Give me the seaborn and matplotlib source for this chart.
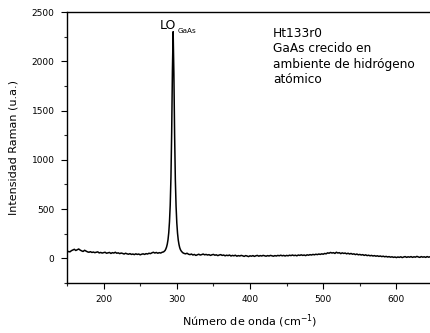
import matplotlib
matplotlib.use("Agg")
import matplotlib.pyplot as plt
from matplotlib.ticker import MultipleLocator
import numpy as np
import pandas as pd
import seaborn as sns

# ---- data ----
wn_low = list(range(150, 284, 2))
int_low = [62, 70, 66, 78, 85, 92, 80, 88, 95, 84, 76, 70, 82, 74, 66, 62, 68, 60, 64, 58,
           62, 66, 55, 60, 54, 58, 62, 52, 56, 60, 50, 58, 54, 62, 52, 56, 48, 54, 50, 44,
           52, 46, 42, 48, 40, 44, 38, 46, 40, 44, 36, 42, 46, 40, 48, 44, 52, 48, 56, 62,
           54, 60, 52, 58, 54, 62, 66]
wn_peak = list(range(284, 308))
int_peak = [80, 95, 115, 145, 190, 260, 370, 540, 820, 1280, 1900, 2300,
            1880, 1260, 800, 530, 360, 255, 185, 140, 108, 88, 75, 66]
wn_high = list(range(308, 651, 2))
int_high = [58, 50, 46, 52, 42, 38, 44, 34, 40, 30, 36, 42, 34, 38, 44, 36, 40, 34, 38, 30,
            36, 40, 32, 36, 28, 34, 38, 30, 34, 26, 32, 28, 34, 24, 30, 26, 32, 22, 28, 24,
            30, 26, 20, 28, 24, 18, 26, 22, 28, 20, 26, 30, 22, 28, 24, 30, 26, 22, 28, 24,
            30, 26, 22, 28, 24, 30, 26, 32, 26, 30, 24, 30, 26, 32, 28, 34, 28, 32, 26, 34,
            30, 36, 30, 34, 28, 36, 32, 38, 34, 40, 36, 42, 38, 44, 40, 46, 42, 50, 46, 56,
            52, 60, 54, 58, 50, 62, 54, 58, 48, 56, 50, 54, 46, 52, 44, 50, 42, 46, 38, 44,
            36, 40, 34, 38, 30, 36, 28, 32, 26, 30, 24, 28, 22, 26, 20, 24, 18, 22, 16, 20,
            14, 18, 12, 16, 10, 14, 8, 14, 10, 16, 8, 14, 18, 10, 16, 12, 18, 10, 16, 12,
            20, 14, 10, 18, 12, 16, 10, 18, 12, 16, 10, 14]

wavenumber = wn_low + wn_peak + wn_high
intensity = int_low + int_peak + int_high

x_ticks = [200, 300, 400, 500, 600]
y_ticks = [0, 500, 1000, 1500, 2000, 2500]
x_label = "Número de onda (cm$^{-1}$)"
y_label = "Intensidad Raman (u.a.)"
note_lines = ["Ht133r0", "GaAs crecido en", "ambiente de hidrógeno", "atómico"]

df = pd.DataFrame({"wn": wavenumber, "I": intensity})

sns.set_style("ticks")
plt.rcParams["font.family"] = ["DejaVu Sans"]
plt.rcParams["mathtext.default"] = "regular"
plt.rcParams["text.color"] = "black"
plt.rcParams["axes.labelcolor"] = "black"

fig = plt.figure(figsize=(4.31, 3.33), dpi=100)
ax = fig.add_axes([67 / 431, 1 - 283 / 333, (433 - 67) / 431, (283 - 12) / 333])

sns.lineplot(data=df, x="wn", y="I", ax=ax, color="black", linewidth=1.1,
             estimator=None, sort=True)

ax.set_xlim(150, 650)
ax.set_ylim(-250, 2500)
ax.set_xticks(x_ticks)
ax.set_yticks(y_ticks)
ax.xaxis.set_minor_locator(MultipleLocator(50))
ax.yaxis.set_minor_locator(MultipleLocator(250))
ax.tick_params(which="major", direction="out", length=4, width=0.8, labelsize=6.5,
               colors="black", pad=5)
ax.tick_params(which="minor", direction="out", length=2.5, width=0.8)
ax.spines["right"].set_visible(False)
for s in ax.spines.values():
    s.set_linewidth(1.0)
    s.set_color("black")

ax.set_xlabel(x_label, fontsize=8, labelpad=6)
ax.set_ylabel(y_label, fontsize=8, labelpad=9)

ax.text(276.5, 2430, "LO", fontsize=9, ha="left", va="top")
ax.text(301, 2335, "GaAs", fontsize=5.2, ha="left", va="top")
ax.text(0.563, 0.945, "\n".join(note_lines), transform=ax.transAxes, fontsize=8.7,
        ha="left", va="top", linespacing=1.25)

fig.savefig("out.png", dpi=100)
